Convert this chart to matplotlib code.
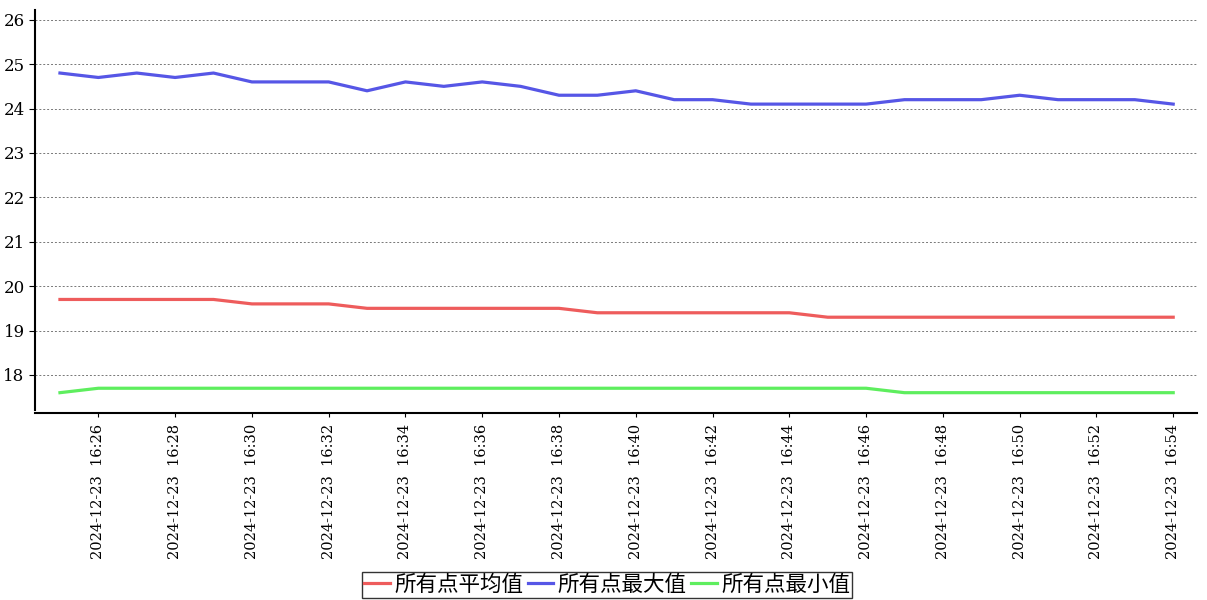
import matplotlib.pyplot as plt

plt.rcParams['font.family'] = ['DejaVu Serif']

# minutes from 16:25 to 16:54
times = ['16:%02d' % m for m in range(25, 55)]
avg_vals = [19.7, 19.7, 19.7, 19.7, 19.7, 19.6, 19.6, 19.6, 19.5, 19.5,
            19.5, 19.5, 19.5, 19.5, 19.4, 19.4, 19.4, 19.4, 19.4, 19.4,
            19.3, 19.3, 19.3, 19.3, 19.3, 19.3, 19.3, 19.3, 19.3, 19.3]
max_vals = [24.8, 24.7, 24.8, 24.7, 24.8, 24.6, 24.6, 24.6, 24.4, 24.6,
            24.5, 24.6, 24.5, 24.3, 24.3, 24.4, 24.2, 24.2, 24.1, 24.1,
            24.1, 24.1, 24.2, 24.2, 24.2, 24.3, 24.2, 24.2, 24.2, 24.1]
min_vals = [17.6, 17.7, 17.7, 17.7, 17.7, 17.7, 17.7, 17.7, 17.7, 17.7,
            17.7, 17.7, 17.7, 17.7, 17.7, 17.7, 17.7, 17.7, 17.7, 17.7,
            17.7, 17.7, 17.6, 17.6, 17.6, 17.6, 17.6, 17.6, 17.6, 17.6]
labels = ['所有点平均值', '所有点最大值', '所有点最小值']
colors = ['#EE5C5C', '#5656E6', '#5EEE5E']

fig = plt.figure(figsize=(12.07, 6), dpi=100)
ax = fig.add_axes([35 / 1207, 1 - 410 / 600, 1162 / 1207, 400 / 600])

x = list(range(len(times)))
for vals, lab, c in zip([avg_vals, max_vals, min_vals], labels, colors):
    ax.plot(x, vals, color=c, linewidth=2.3, label=lab)

ax.set_xlim(-0.65, 29.62)
ax.set_ylim(17.21, 26.22)
ax.set_yticks(range(18, 27))
ax.set_xticks(x[1::2])
ax.tick_params(axis='y', labelsize=12, length=4, width=0.8)
ax.tick_params(axis='x', length=3, width=0.8, pad=5, labelsize=10.5,
               labelrotation=90)
ax.set_xticklabels(['2024-12-23  ' + t for t in times[1::2]])
ax.yaxis.grid(True, linestyle=(0, (2, 2)), color='#777777', linewidth=0.7)
ax.set_axisbelow(True)

for s in ['top', 'right']:
    ax.spines[s].set_visible(False)
for s in ['left', 'bottom']:
    ax.spines[s].set_linewidth(1.5)
ax.spines['bottom'].set_position(('outward', 2))

leg = fig.legend(loc='lower center', bbox_to_anchor=(0.503, 0.0), ncol=3,
                 prop={'family': ['Noto Sans CJK SC'], 'size': 15.5},
                 frameon=True, fancybox=False, edgecolor='black',
                 handlelength=1.2, handletextpad=0.2, columnspacing=0.2,
                 borderpad=0.1, borderaxespad=0.1)
leg.get_frame().set_linewidth(1.0)

plt.savefig('out.png')
